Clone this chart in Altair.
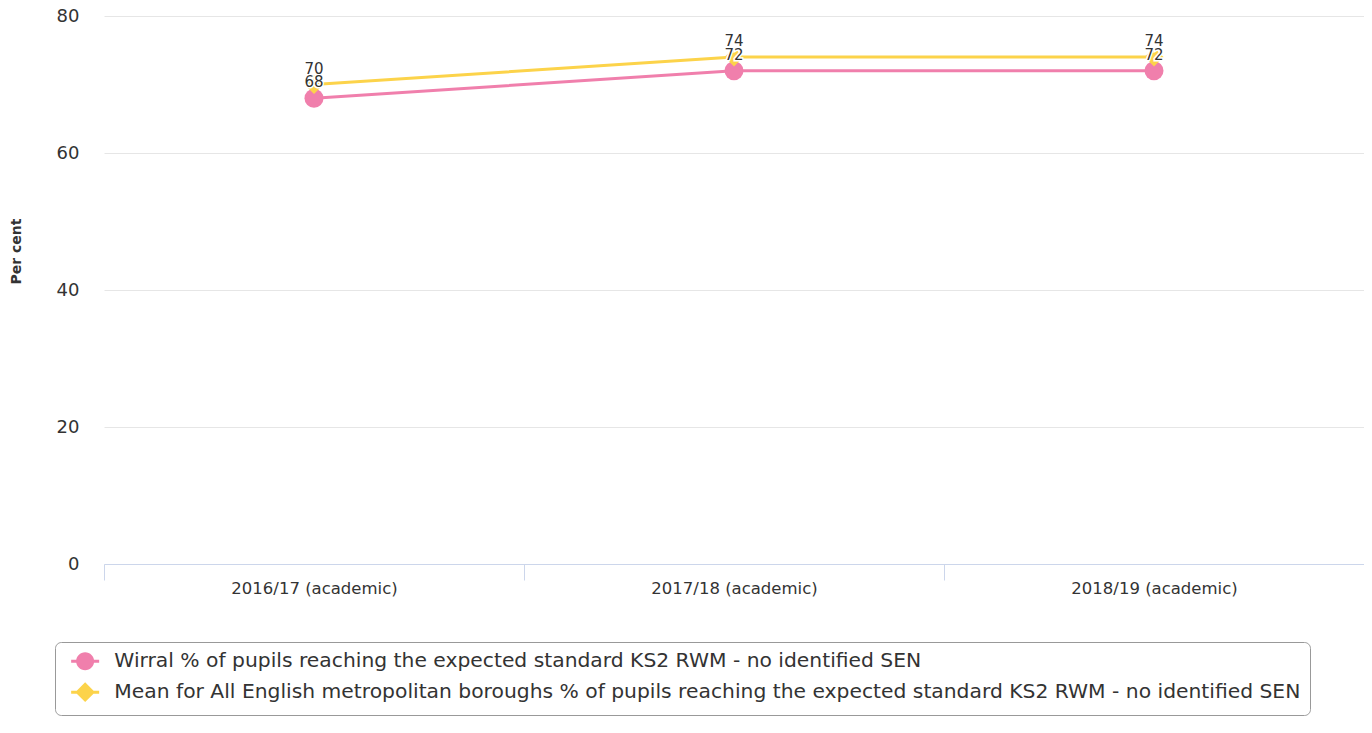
import altair as alt
import pandas as pd

categories = ["2016/17 (academic)", "2017/18 (academic)", "2018/19 (academic)"]
series_names = [
    "Wirral % of pupils reaching the expected standard KS2 RWM - no identified SEN",
    "Mean for All English metropolitan boroughs % of pupils reaching the expected standard KS2 RWM - no identified SEN",
]
wirral_values = [68, 72, 72]
mean_values = [70, 74, 74]
series_colors = ["#f07fac", "#fcd34a"]
y_ticks = [0, 20, 40, 60, 80]

rows = []
for s, vals in zip(series_names, [wirral_values, mean_values]):
    for c, v in zip(categories, vals):
        rows.append({"series": s, "category": c, "value": v})
df = pd.DataFrame(rows)

# legend symbols: marker with a short line stub on each side
circle_path = ("M-1,0 A1,1 0 1,1 1,0 A1,1 0 1,1 -1,0 Z "
               "M-1.556,-0.167 L-0.9,-0.167 L-0.9,0.167 L-1.556,0.167 Z "
               "M0.9,-0.167 L1.556,-0.167 L1.556,0.167 L0.9,0.167 Z")
diamond_path = ("M0,-1.1 L1.1,0 L0,1.1 L-1.1,0 Z "
                "M-1.556,-0.167 L-0.9,-0.167 L-0.9,0.167 L-1.556,0.167 Z "
                "M0.9,-0.167 L1.556,-0.167 L1.556,0.167 L0.9,0.167 Z")

x_enc = alt.X(
    "category:N",
    sort=categories,
    bandPosition=0.5,
    scale=alt.Scale(type="band", domain=categories, paddingInner=0, paddingOuter=0),
    axis=alt.Axis(
        title=None,
        tickBand="extent",
        domainColor="#ccd6eb",
        domainWidth=1,
        tickColor="#ccd6eb",
        tickWidth=1,
        tickSize=16,
        labelAngle=0,
        labelFontSize=16.5,
        labelColor="#333333",
        labelPadding=0,
        labelBaseline="top",
        grid=False,
    ),
)
y_enc = alt.Y(
    "value:Q",
    scale=alt.Scale(domain=[0, 80], nice=False),
    axis=alt.Axis(
        title="Per cent",
        values=y_ticks,
        domain=False,
        ticks=False,
        grid=True,
        gridColor="#e6e6e6",
        gridWidth=1,
        labelFontSize=18,
        labelColor="#333333",
        labelPadding=25,
        titleFontSize=14,
        titleFontWeight="bold",
        titleColor="#333333",
        titleAngle=270,
        titleX=-88,
        titleY=235,
        titleAlign="center",
        titleBaseline="middle",
    ),
)

base = alt.Chart(df).encode(x=x_enc, y=y_enc)
is_w = alt.datum.series == series_names[0]
is_m = alt.datum.series == series_names[1]

pink_line = base.transform_filter(is_w).mark_line(strokeWidth=3, color=series_colors[0])
pink_pts = base.transform_filter(is_w).mark_point(
    shape="circle", filled=True, size=361, opacity=1, color=series_colors[0])
yel_line = base.transform_filter(is_m).mark_line(strokeWidth=3, color=series_colors[1])
yel_pts = base.transform_filter(is_m).mark_point(
    shape="diamond", filled=True, size=361, opacity=1, color=series_colors[1])

halo = base.mark_text(dy=-16, fontSize=15, fill="white", stroke="white", strokeWidth=3,
                      baseline="middle").encode(text="value:Q")
labels = base.mark_text(dy=-16, fontSize=15, color="#333333", baseline="middle").encode(text="value:Q")

legend_layer = base.transform_filter("false").mark_point(filled=True, opacity=1, size=324).encode(
    color=alt.Color("series:N", scale=alt.Scale(domain=series_names, range=series_colors),
                    legend=alt.Legend(title=None)),
    shape=alt.Shape("series:N", scale=alt.Scale(domain=series_names, range=[circle_path, diamond_path]),
                    legend=alt.Legend(title=None)),
)

chart = alt.layer(pink_line, pink_pts, yel_line, yel_pts, halo, labels, legend_layer).properties(
    width=1260,
    height=548,
    autosize=alt.AutoSizeParams(type="none"),
    padding={"left": 96, "top": 8, "right": 0, "bottom": 154},
).configure(
    font="DejaVu Sans",
).configure_view(
    stroke=None,
).configure_legend(
    orient="none",
    legendX=-49,
    legendY=626,
    direction="vertical",
    strokeColor="#999999",
    cornerRadius=6,
    padding=9,
    labelFontSize=20.3,
    labelColor="#333333",
    labelFont="DejaVu Sans",
    labelLimit=2000,
    labelOffset=19,
    symbolOffset=11,
    rowPadding=5,
    symbolSize=324,
    symbolOpacity=1,
)

chart.save("out.html", embed_options={"renderer": "svg", "actions": False})
